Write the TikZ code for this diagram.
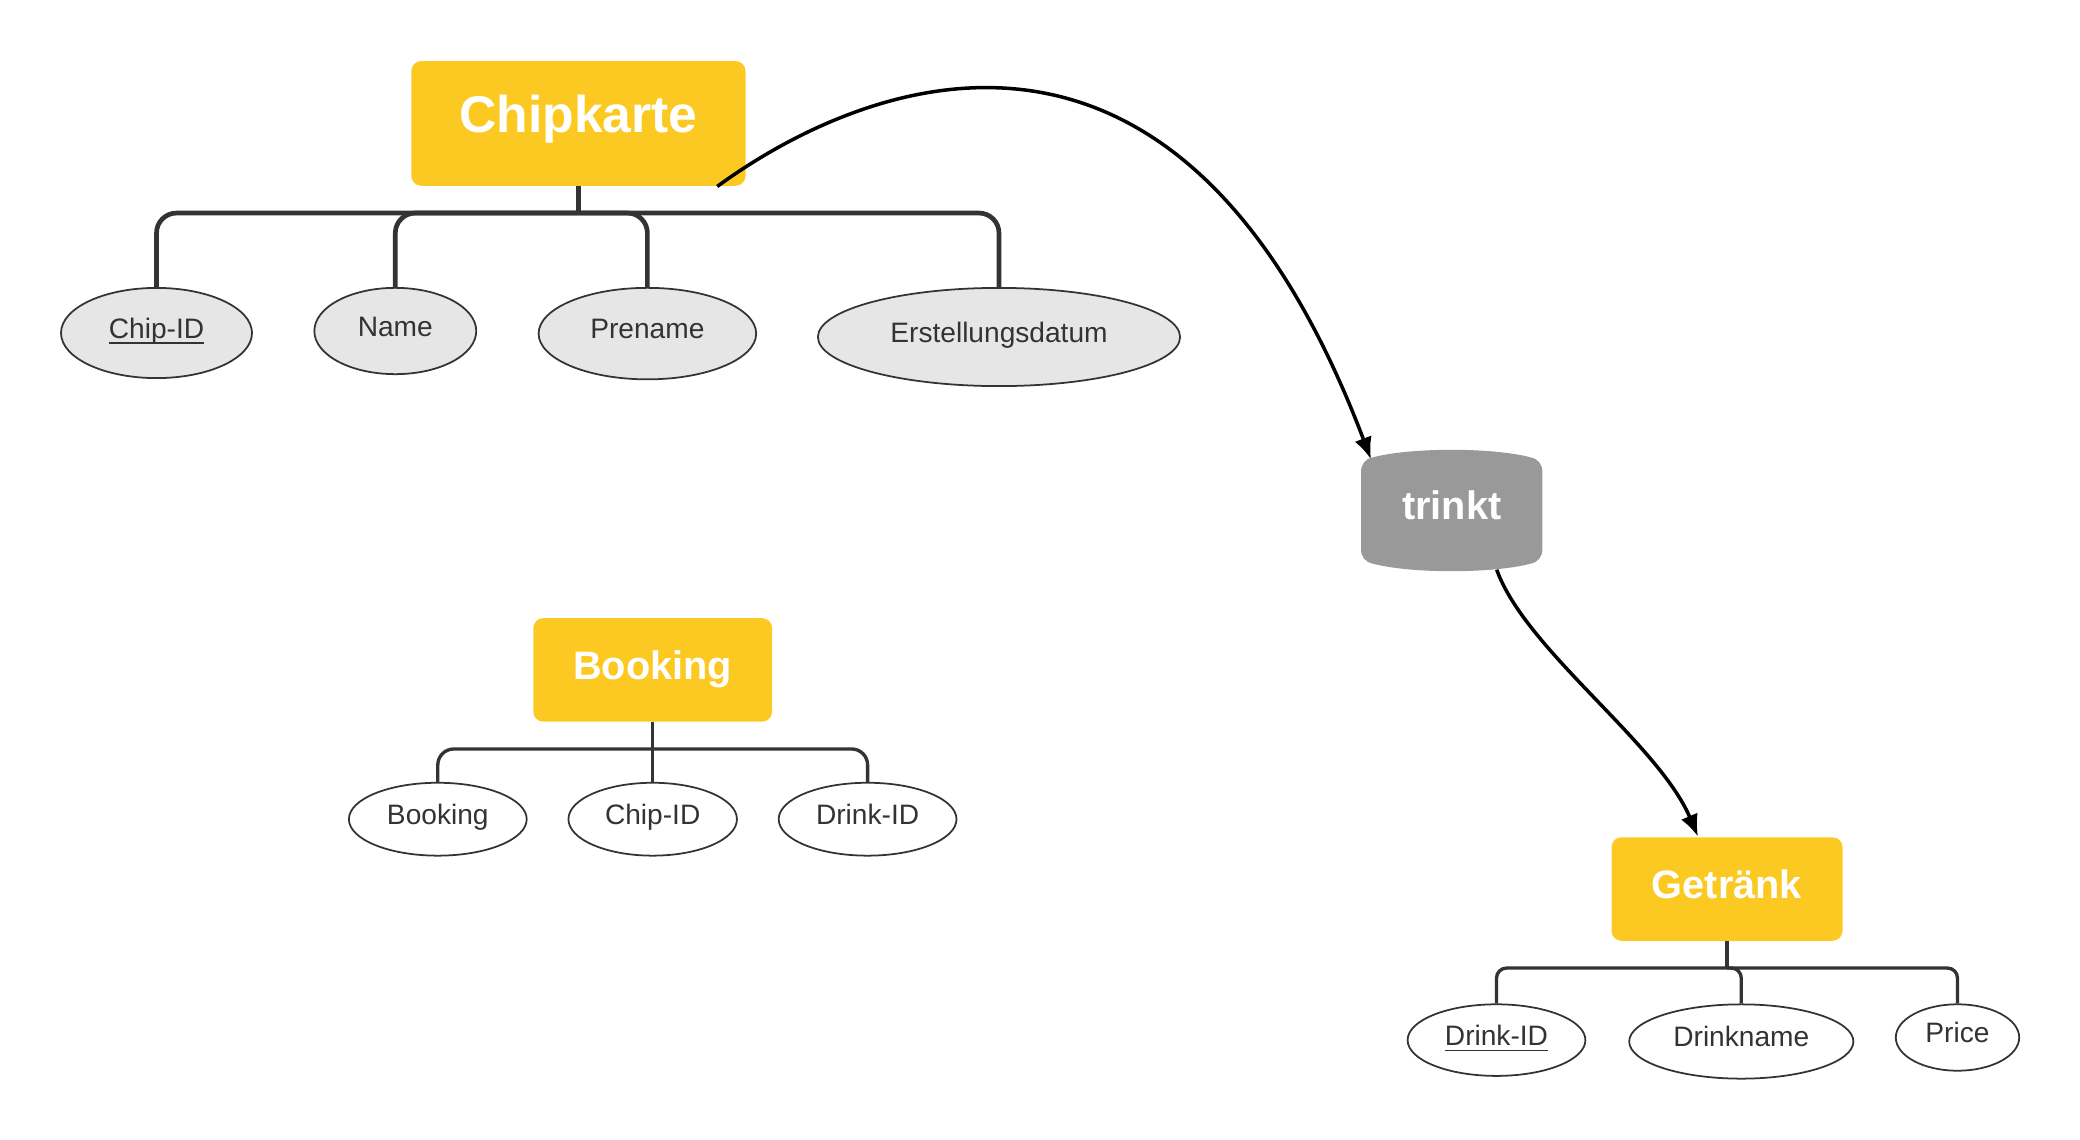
\documentclass[tikz,border=0pt]{standalone}
\usepackage{fontspec}
\setmainfont{Liberation Sans}
\usetikzlibrary{arrows.meta,backgrounds,shapes.geometric}
\definecolor{entyellow}{HTML}{FCC923}
\definecolor{relgray}{HTML}{999999}
\definecolor{attrgray}{HTML}{E6E6E6}
\definecolor{linegray}{HTML}{333333}
\newcommand{\keyattr}[1]{\underline{\smash{#1}}}
\tikzset{
  entity/.style={fill=entyellow, rounded corners=0.1cm, text=white, inner sep=0pt,
    font=\bfseries\fontsize{11.3}{13}\selectfont, minimum height=1.035cm,
    text height=0.73em, text depth=0.2em},
  attr/.style={ellipse, draw=linegray, line width=0.5pt, text=linegray, inner sep=0pt,
    font=\fontsize{8}{10}\selectfont, text height=5.8pt, text depth=2.8pt},
  chipattr/.style={attr, fill=attrgray},
  bus/.style={draw=linegray, line width=0.95pt, rounded corners=0.16cm},
  link/.style={-{Latex[length=0.22cm,width=0.18cm]}, line width=1pt}
}
\begin{document}
\begin{tikzpicture}
    \useasboundingbox (0,0) rectangle (20.8,-11.4);
    % Chipkarte
    \node[entity, minimum width=3.343cm, minimum height=1.247cm, font=\bfseries\fontsize{14.7}{17}\selectfont] (chip) at (5.784,-1.234) {Chipkarte};
    \node[chipattr, minimum width=1.91cm, minimum height=0.902cm] (chipid) at (1.565,-3.33) {\keyattr{Chip-ID}};
    \node[chipattr, minimum width=1.619cm, minimum height=0.863cm] (name) at (3.953,-3.31) {Name};
    \node[chipattr, minimum width=2.176cm, minimum height=0.915cm] (prename) at (6.474,-3.336) {Prename};
    \node[chipattr, minimum width=3.622cm, minimum height=0.982cm] (datum) at (9.99,-3.37) {Erstellungsdatum};
    \coordinate (chipbus) at ([yshift=-0.266cm]chip.south);
    \draw[bus, line width=1.33pt] (chip.south) -- (chipbus);
    \foreach \a in {chipid,name,prename,datum}
        \draw[bus, line width=1.33pt, rounded corners=0.2cm] (chipbus) -| (\a.north);

    % Booking
    \node[entity, minimum width=2.388cm] (booking) at (6.527,-6.699) {Booking};
    \node[attr, minimum width=1.778cm, minimum height=0.729cm] (bookid) at (4.378,-8.192) {Booking};
    \node[attr, minimum width=1.685cm, minimum height=0.729cm] (bchip) at (6.527,-8.192) {Chip-ID};
    \node[attr, minimum width=1.778cm, minimum height=0.729cm] (bdrink) at (8.676,-8.192) {Drink-ID};
    \coordinate (bookbus) at ([yshift=-0.266cm]booking.south);
    \draw[bus] (booking.south) -- (bookbus);
    \foreach \a in {bookid,bchip,bdrink}
        \draw[bus] (bookbus) -| (\a.north);

    % Getraenk
    \node[entity, minimum width=2.31cm] (drink) at (17.27,-8.89) {Getränk};
    \node[attr, minimum width=1.778cm, minimum height=0.716cm] (drinkid) at (14.965,-10.401) {\keyattr{Drink-ID}};
    \node[attr, minimum width=2.242cm, minimum height=0.743cm] (drinkname) at (17.413,-10.415) {Drinkname};
    \node[attr, minimum width=1.234cm, minimum height=0.664cm] (price) at (19.575,-10.375) {Price};
    \coordinate (drinkbus) at ([yshift=-0.266cm]drink.south);
    \draw[bus] (drink.south) -- (drinkbus);
    \foreach \a in {drinkid,drinkname,price}
        \draw[bus, rounded corners=0.1cm] (drinkbus) -| (\a.north);

    % trinkt
    \node[minimum width=1.8cm, minimum height=0.95cm, inner sep=0pt, text=white,
          font=\bfseries\fontsize{11.3}{13}\selectfont, text height=0.73em, text depth=0.2em] (trinkt) at (14.517,-5.105) {trinkt};
    \begin{scope}[on background layer]
        \fill[relgray] ([yshift=-0.1cm]trinkt.north west) -- ([yshift=0.1cm]trinkt.south west)
            .. controls ([yshift=0.02cm]trinkt.south west) and ([xshift=0.04cm,yshift=-0.033cm]trinkt.south west) .. ([xshift=0.12cm,yshift=-0.05cm]trinkt.south west)
            .. controls ([xshift=0.5cm,yshift=-0.15cm]trinkt.south west) and ([xshift=-0.5cm,yshift=-0.15cm]trinkt.south east) .. ([xshift=-0.12cm,yshift=-0.05cm]trinkt.south east)
            .. controls ([xshift=-0.04cm,yshift=-0.033cm]trinkt.south east) and ([yshift=0.02cm]trinkt.south east) .. ([yshift=0.1cm]trinkt.south east)
            -- ([yshift=-0.1cm]trinkt.north east)
            .. controls ([yshift=-0.02cm]trinkt.north east) and ([xshift=-0.04cm,yshift=0.033cm]trinkt.north east) .. ([xshift=-0.12cm,yshift=0.05cm]trinkt.north east)
            .. controls ([xshift=-0.5cm,yshift=0.15cm]trinkt.north east) and ([xshift=0.5cm,yshift=0.15cm]trinkt.north west) .. ([xshift=0.12cm,yshift=0.05cm]trinkt.north west)
            .. controls ([xshift=0.04cm,yshift=0.033cm]trinkt.north west) and ([yshift=-0.02cm]trinkt.north west) .. cycle;
    \end{scope}

    % relationship arrows
    \draw[link] ([xshift=-0.29cm]chip.south east) .. controls (8.36,-0.995) and (11.7,0.72) .. ([xshift=0.1cm,yshift=0.03cm]trinkt.north west);
    \draw[link] ([xshift=0.45cm,yshift=-0.11cm]trinkt.south) .. controls (15.256,-6.5) and (16.584,-7.43) .. ([xshift=-0.29cm]drink.north);
\end{tikzpicture}
\end{document}
